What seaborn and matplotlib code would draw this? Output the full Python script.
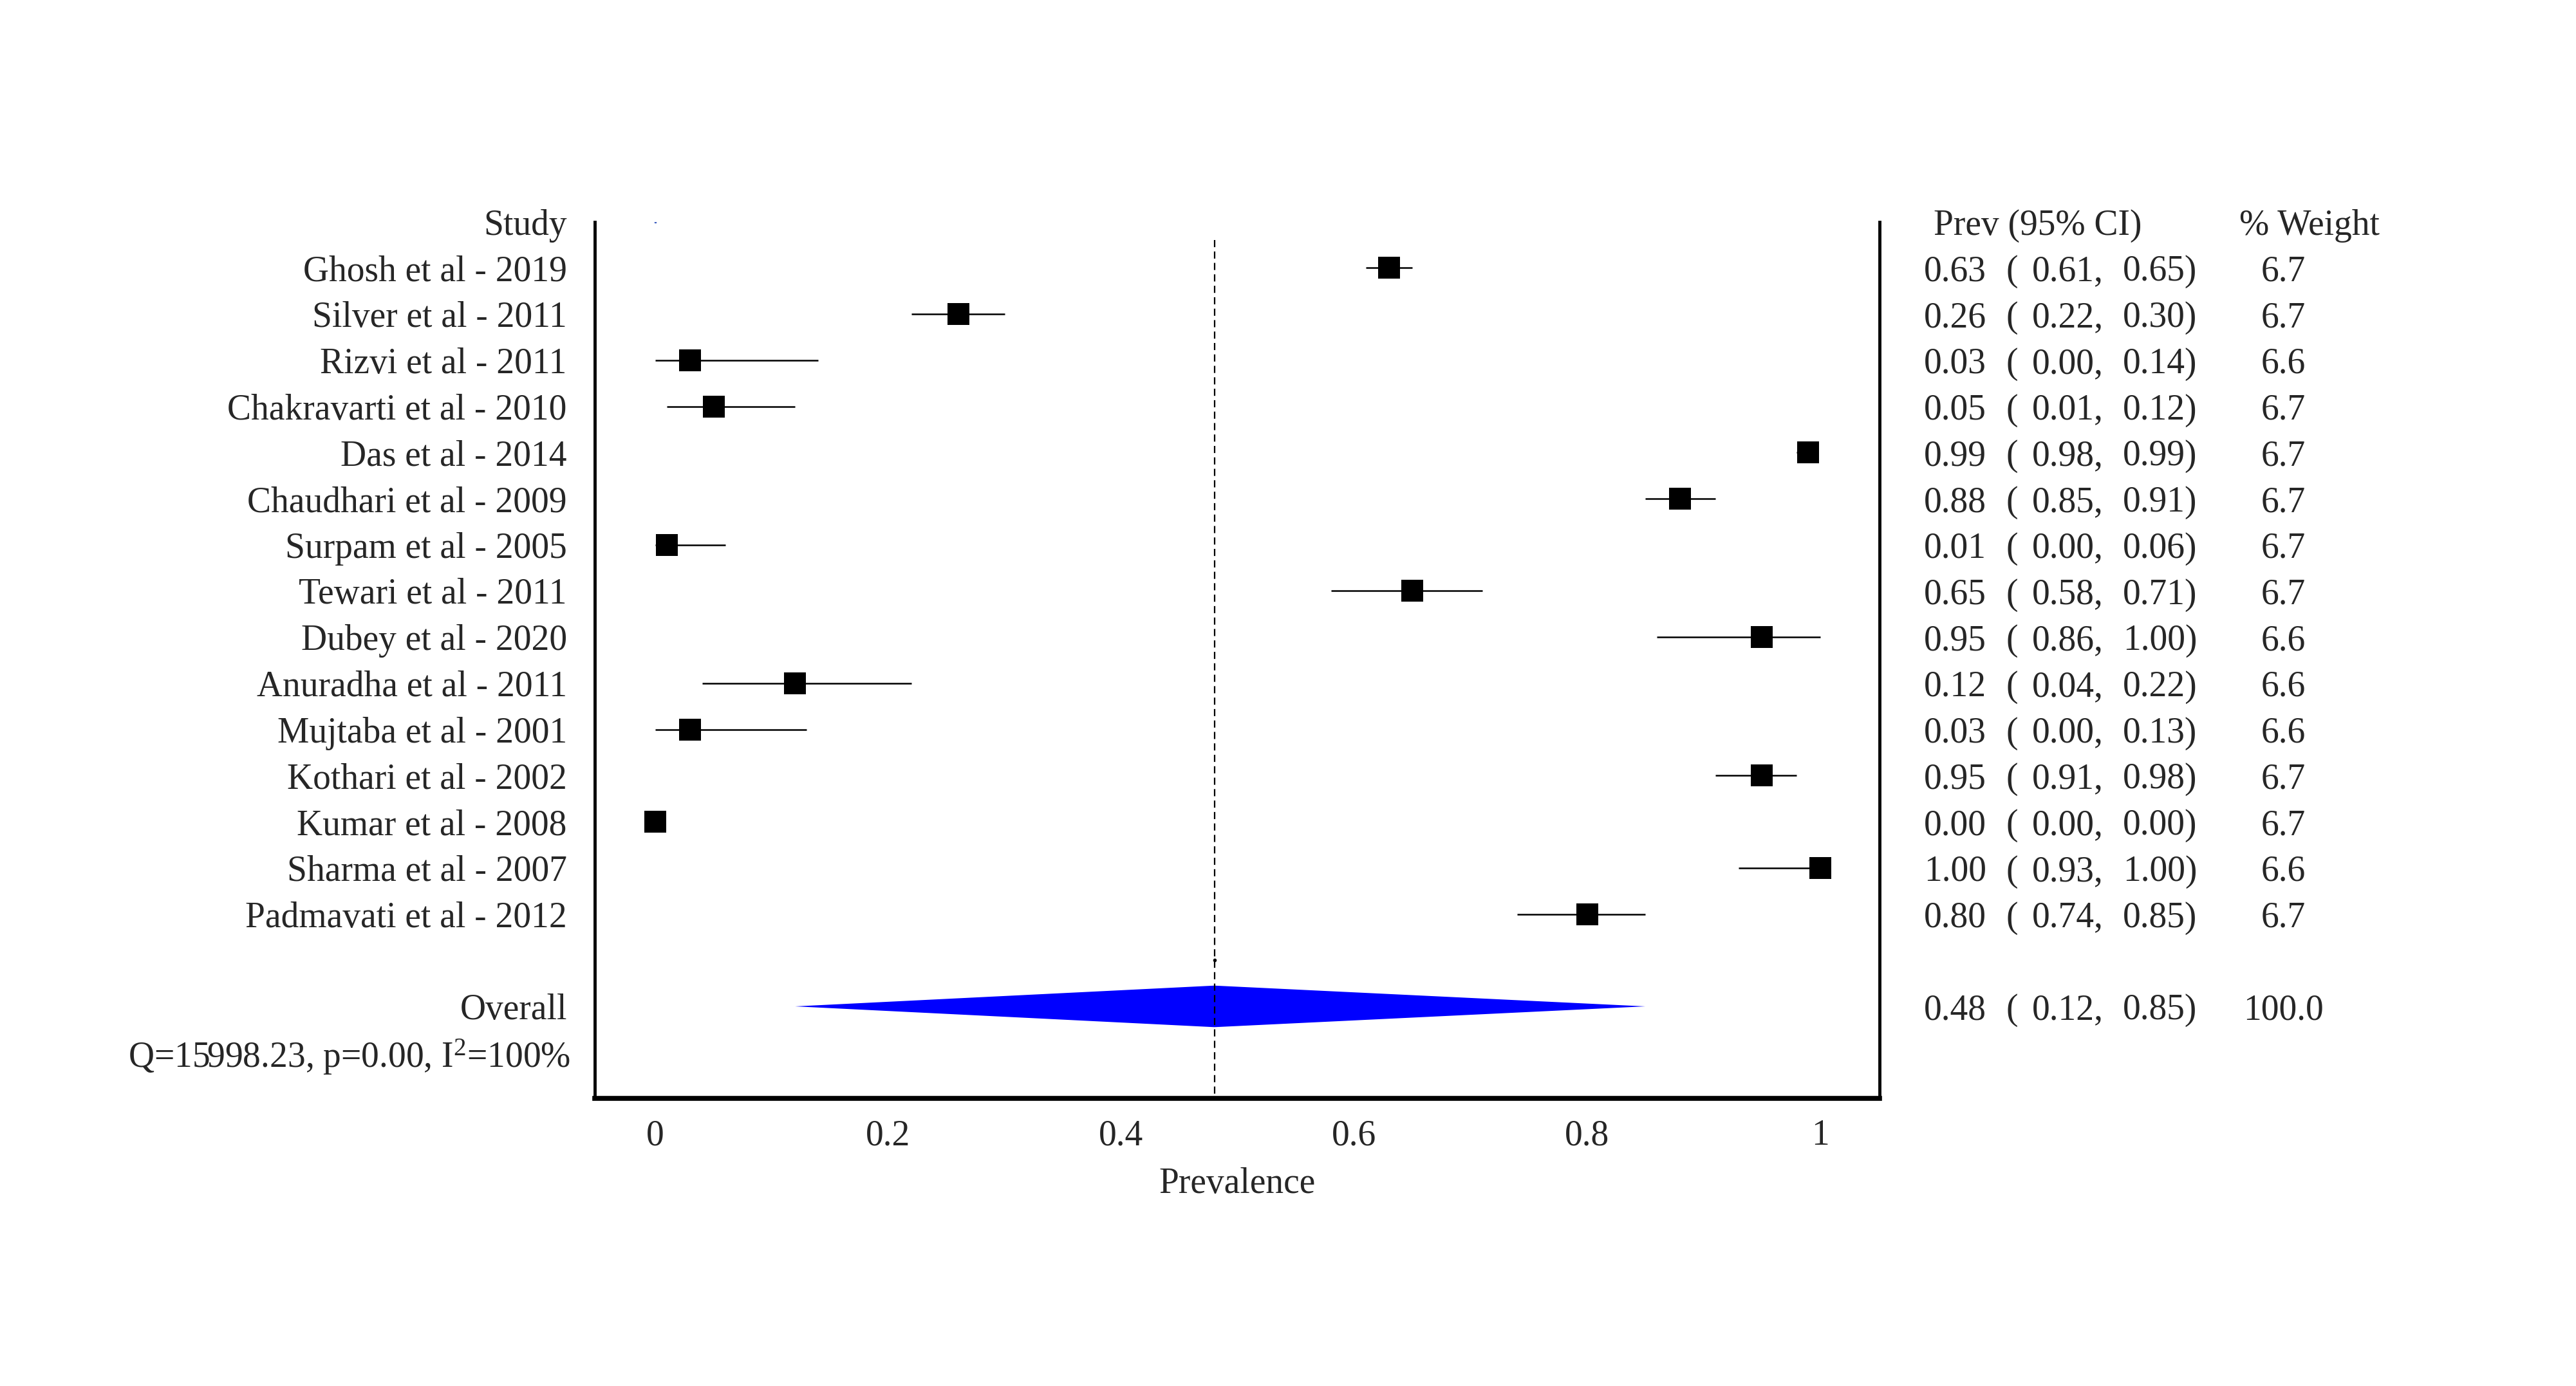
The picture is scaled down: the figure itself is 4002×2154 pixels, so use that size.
import numpy as np
import pandas as pd
import matplotlib
matplotlib.use("Agg")
import matplotlib.pyplot as plt
import seaborn as sns

studies = ["Ghosh et al - 2019", "Silver et al - 2011", "Rizvi et al - 2011",
           "Chakravarti et al - 2010", "Das et al - 2014", "Chaudhari et al - 2009",
           "Surpam et al - 2005", "Tewari et al - 2011", "Dubey et al - 2020",
           "Anuradha et al - 2011", "Mujtaba et al - 2001", "Kothari et al - 2002",
           "Kumar et al - 2008", "Sharma et al - 2007", "Padmavati et al - 2012"]
prev = [0.63, 0.26, 0.03, 0.05, 0.99, 0.88, 0.01, 0.65, 0.95, 0.12, 0.03, 0.95, 0.00, 1.00, 0.80]
lower = [0.61, 0.22, 0.00, 0.01, 0.98, 0.85, 0.00, 0.58, 0.86, 0.04, 0.00, 0.91, 0.00, 0.93, 0.74]
upper = [0.65, 0.30, 0.14, 0.12, 0.99, 0.91, 0.06, 0.71, 1.00, 0.22, 0.13, 0.98, 0.00, 1.00, 0.85]
weights = ["6.7", "6.7", "6.6", "6.7", "6.7", "6.7", "6.7", "6.7", "6.6", "6.6",
           "6.6", "6.7", "6.7", "6.6", "6.7"]
overall = 0.48
overall_lo = 0.12
overall_hi = 0.85
overall_weight = "100.0"
het_text = r"Q=15998.23, p=0.00, I$^{2}$=100%"
xticks = [0, 0.2, 0.4, 0.6, 0.8, 1]
xtick_labels = ["0", "0.2", "0.4", "0.6", "0.8", "1"]

df = pd.DataFrame({"study": studies, "prev": prev, "lo": lower, "hi": upper,
                   "w": weights})
df["row"] = np.arange(1, len(df) + 1)
overall_row = len(df) + 2
het_row = len(df) + 3

sns.set_theme(style="white")
plt.rcParams["font.family"] = ["Liberation Serif", "DejaVu Serif"]
plt.rcParams["mathtext.fontset"] = "custom"
plt.rcParams["mathtext.rm"] = "Liberation Serif"
plt.rcParams["mathtext.it"] = "Liberation Serif"
fs = 40

fig = plt.figure(figsize=(40.02, 21.54), dpi=100)
ax = fig.add_axes([0.2309, 0.2073, 0.4987, 0.6327])

# confidence intervals
ax.hlines(df["row"], df["lo"], df["hi"], color="black", lw=1.8, zorder=2)
sns.scatterplot(data=df, x="prev", y="row", marker="s", s=25 ** 2, color="black",
                edgecolor="black", linewidth=0, ax=ax, zorder=3, legend=False)

# pooled estimate
ax.fill([overall_lo, overall, overall_hi, overall],
        [overall_row, overall_row - 0.45, overall_row, overall_row + 0.45],
        color="#0000ff", lw=0, zorder=2)
ax.plot([overall, overall], [0.4, het_row + 1], ls=(0, (5, 3)), color="black",
        lw=1.6, zorder=4)
# tiny leftover marks seen in the original output
ax.plot([0], [0], marker="s", ms=1.5, color="#4060c0", lw=0)
ax.plot([overall], [overall_row - 1], marker="o", ms=3, color="black", lw=0)

ax.set_xlim(-0.052, 1.051)
ax.set_ylim(het_row + 1, 0)
ax.set_yticks([])
ax.set_ylabel("")
ax.set_xticks(xticks)
ax.set_xticklabels(xtick_labels, fontsize=fs)
ax.tick_params(axis="x", length=10, width=1.2, color="#808080", pad=13, direction="out")
ax.set_xlabel("Prevalence", fontsize=fs, labelpad=16)

for side in ["left", "right"]:
    ax.spines[side].set_linewidth(3.5)
    ax.spines[side].set_color("black")
ax.spines["bottom"].set_linewidth(5.5)
ax.spines["bottom"].set_color("black")
ax.spines["top"].set_visible(False)

tr = ax.get_yaxis_transform()
lx = -0.0217
va = "center_baseline"
ax.text(lx, 0, "Study", transform=tr, ha="right", va=va, fontsize=fs)
for _, r in df.iterrows():
    ax.text(lx, r["row"], r["study"], transform=tr, ha="right", va=va, fontsize=fs)
ax.text(lx, overall_row, "Overall", transform=tr, ha="right", va=va, fontsize=fs)
ax.text(lx + 0.003, het_row, het_text, transform=tr, ha="right", va=va, fontsize=fs)

# right-hand table
cols = [1.0345, 1.0985, 1.1189, 1.1893]
wcol = 1.3146
ax.text(1.0422, 0, "Prev (95% CI)", transform=tr, ha="left", va=va, fontsize=fs)
ax.text(1.2801, 0, "% Weight", transform=tr, ha="left", va=va, fontsize=fs)
rows = list(zip(df["row"], df["prev"], df["lo"], df["hi"], df["w"]))
rows.append((overall_row, overall, overall_lo, overall_hi, overall_weight))
for row, p, lo, hi, w in rows:
    ax.text(cols[0], row, f"{p:.2f}", transform=tr, ha="left", va=va, fontsize=fs)
    ax.text(cols[1], row, "(", transform=tr, ha="left", va=va, fontsize=fs)
    ax.text(cols[2], row, f"{lo:.2f},", transform=tr, ha="left", va=va, fontsize=fs)
    ax.text(cols[3], row, f"{hi:.2f})", transform=tr, ha="left", va=va, fontsize=fs)
    ax.text(wcol, row, w, transform=tr, ha="center", va=va, fontsize=fs)

fig.savefig("out.png", dpi=100, facecolor="white")
